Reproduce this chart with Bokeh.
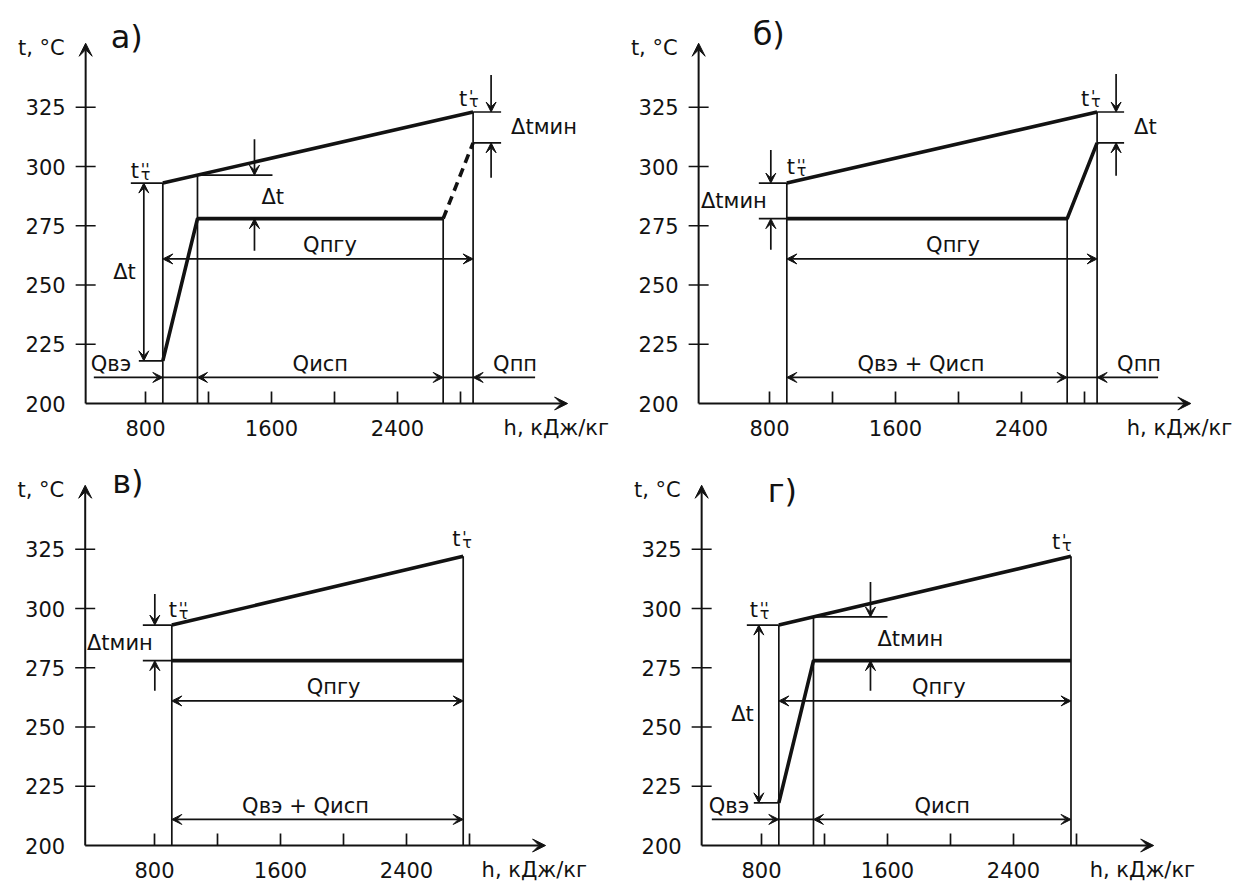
import numpy as np
from bokeh.plotting import figure
from bokeh.layouts import column, row
from bokeh.models import Range1d, Arrow, VeeHead
from bokeh.core.properties import value
from bokeh.embed import file_html
from bokeh.resources import INLINE

# ---------------- data ----------------
T_TICKS = [200, 225, 250, 275, 300, 325]
T_TICK_LABELS = ["200", "225", "250", "275", "300", "325"]
H_TICKS = [800, 1200, 1600, 2000, 2400, 2800]
H_LABEL_VALUES = [800, 1600, 2400]
H_TICK_LABELS = ["800", "1600", "2400"]

# panel а
A_GAS_H = [910, 2880]
A_GAS_T = [293, 323]
A_WATER_H = [910, 1130, 2690]
A_WATER_T = [218, 278, 278]
A_STEAM_H = [2690, 2880]
A_STEAM_T = [278, 310]
# panel б
B_GAS_H = [910, 2880]
B_GAS_T = [293, 323]
B_WATER_H = [910, 2690, 2880]
B_WATER_T = [278, 278, 310]
# panel в
V_GAS_H = [910, 2760]
V_GAS_T = [293, 322]
V_WATER_H = [910, 2760]
V_WATER_T = [278, 278]
# panel г
G_GAS_H = [910, 2765]
G_GAS_T = [293, 322]
G_WATER_H = [910, 1130, 2765]
G_WATER_T = [218, 278, 278]

# ---------------- layout / style ----------------
W, H = 617, 442
UX = 400 / 63.0      # кДж/кг per pixel
UT = 1 / 2.37        # °C per pixel
T_BOTTOM = 200 - 39 * UT
T_TOP_ARROW = 352
Q_PGU_T = 261
Q_LOW_T = 211
FONT = "DejaVu Sans"
FS = "21px"
INK = "#121212"
THIN = 1.7
THICK = 3.6


def make_fig(px800, axis_h, arrow_h, title, title_dx, title_dy):
    x0 = 800 - px800 * UX
    p = figure(width=W, height=H,
               x_range=Range1d(x0, x0 + W * UX),
               y_range=Range1d(T_BOTTOM, T_BOTTOM + H * UT),
               x_axis_type=None, y_axis_type=None,
               output_backend="svg", toolbar_location=None,
               min_border=0, outline_line_color=None)
    p.background_fill_color = "white"
    p.border_fill_color = "white"
    # axes with arrows
    arrow(p, axis_h, 200, axis_h, T_TOP_ARROW, lw=2.0, size=13)
    arrow(p, axis_h, 200, arrow_h, 200, lw=2.0, size=13)
    yt = T_TICKS[1:]
    p.segment(x0=[axis_h - 10 * UX] * len(yt), y0=yt,
              x1=[axis_h + 10 * UX] * len(yt), y1=yt,
              line_color=INK, line_width=THIN)
    p.text(x=[axis_h - 20 * UX] * len(T_TICKS), y=T_TICKS, text=T_TICK_LABELS,
           text_align="right", text_baseline="alphabetic",
           text_font=value(FONT), text_font_size=FS, text_color=INK)
    p.segment(x0=H_TICKS, y0=[200] * len(H_TICKS), x1=H_TICKS,
              y1=[200 + 12 * UT] * len(H_TICKS), line_color=INK, line_width=THIN)
    p.text(x=H_LABEL_VALUES, y=[200 - 24 * UT] * len(H_LABEL_VALUES),
           text=H_TICK_LABELS, text_align="center", text_baseline="middle",
           text_font=value(FONT), text_font_size=FS, text_color=INK)
    label(p, axis_h - 21 * UX, 200 + 356 * UT, "t, °C", align="right")
    label(p, arrow_h - 64 * UX, 200 - 24 * UT, "h, кДж/кг")
    label(p, axis_h + title_dx * UX, 200 + title_dy * UT, title, size="32px")
    return p


def seg(p, x0, y0, x1, y1, lw=THIN):
    p.segment(x0=[x0], y0=[y0], x1=[x1], y1=[y1], line_color=INK, line_width=lw)


def arrow(p, x0, y0, x1, y1, both=False, lw=THIN, size=10):
    kw = dict(end=VeeHead(size=size, line_color=INK, fill_color=INK, line_width=1),
              x_start=x0, y_start=y0, x_end=x1, y_end=y1,
              line_color=INK, line_width=lw)
    if both:
        kw["start"] = VeeHead(size=size, line_color=INK, fill_color=INK, line_width=1)
    p.add_layout(Arrow(**kw))


def label(p, x, y, s, align="left", baseline="middle", size=FS):
    p.text(x=[x], y=[y], text=[s], text_align=align, text_baseline=baseline,
           text_font=value(FONT), text_font_size=size, text_color=INK)


def t_mark(p, h, t, prime):
    label(p, h, t, "t", baseline="alphabetic")
    label(p, h + 10 * UX, t + 2 * UT, prime, baseline="alphabetic", size="16px")
    label(p, h + 10 * UX, t - 3 * UT, "τ", baseline="alphabetic", size="16px")


# ---------------- panel а ----------------
pa = make_fig(145, 420, 3480, "а)", 25, 367)
h_in, h_pinch, h_sat = A_WATER_H
h_sup = A_STEAM_H[1]
t_g_out, t_g_in = A_GAS_T
t_fw, t_boil = A_WATER_T[0], A_WATER_T[1]
t_sup = A_STEAM_T[1]
t_g_pinch = float(np.interp(h_pinch, A_GAS_H, A_GAS_T))

pa.line(A_GAS_H, A_GAS_T, line_color=INK, line_width=THICK)
pa.line(A_WATER_H, A_WATER_T, line_color=INK, line_width=THICK)
pa.line(A_STEAM_H, A_STEAM_T, line_color=INK, line_width=THICK, line_dash="9 6")
pa.segment(x0=[h_in, h_pinch, h_sat, h_sup], y0=[200] * 4,
           x1=[h_in, h_pinch, h_sat, h_sup], y1=[t_g_out, t_g_pinch, t_boil, t_g_in],
           line_color=INK, line_width=THIN)
seg(pa, h_in - 32 * UX, t_g_out, h_in, t_g_out)
seg(pa, h_in - 24 * UX, t_fw, h_in, t_fw)
arrow(pa, h_in - 19 * UX, t_fw, h_in - 19 * UX, t_g_out, both=True)
label(pa, h_in - 27 * UX, (t_fw + t_g_out) / 2, "Δt", align="right")
t_mark(pa, h_in - 32 * UX, t_g_out + 12 * UT, "''")
seg(pa, h_pinch, t_g_pinch, h_pinch + 75 * UX, t_g_pinch)
xa = h_pinch + 57 * UX
arrow(pa, xa, t_g_pinch + 36 * UT, xa, t_g_pinch)
arrow(pa, xa, t_boil - 32 * UT, xa, t_boil)
label(pa, h_pinch + 64 * UX, (t_boil + t_g_pinch) / 2, "Δt")
seg(pa, h_sup, t_g_in, h_sup + 28 * UX, t_g_in)
seg(pa, h_sup, t_sup, h_sup + 28 * UX, t_sup)
xa = h_sup + 18 * UX
arrow(pa, xa, t_g_in + 37 * UT, xa, t_g_in)
arrow(pa, xa, t_sup - 35 * UT, xa, t_sup)
label(pa, h_sup + 38 * UX, (t_g_in + t_sup) / 2, "Δtмин")
t_mark(pa, h_sup - 14 * UX, t_g_in + 13 * UT, "'")
arrow(pa, h_in, Q_PGU_T, h_sup, Q_PGU_T, both=True)
label(pa, (h_in + h_sup) / 2 + 12 * UX, Q_PGU_T + 14 * UT, "Qпгу", align="center")
arrow(pa, h_in - 69 * UX, Q_LOW_T, h_in, Q_LOW_T)
seg(pa, h_in, Q_LOW_T, h_pinch, Q_LOW_T)
arrow(pa, h_pinch, Q_LOW_T, h_sat, Q_LOW_T, both=True)
seg(pa, h_sat, Q_LOW_T, h_sup, Q_LOW_T)
arrow(pa, h_sup + 62 * UX, Q_LOW_T, h_sup, Q_LOW_T)
label(pa, h_in - 72 * UX, Q_LOW_T + 13 * UT, "Qвэ")
label(pa, (h_pinch + h_sat) / 2, Q_LOW_T + 13 * UT, "Qисп", align="center")
label(pa, h_sup + 20 * UX, Q_LOW_T + 13 * UT, "Qпп")

# ---------------- panel б ----------------
pb = make_fig(152, 350, 3475, "б)", 54, 370)
h_in, h_sat, h_sup = B_WATER_H
t_boil, t_sup = B_WATER_T[0], B_WATER_T[2]
t_g_out, t_g_in = B_GAS_T
pb.line(B_GAS_H, B_GAS_T, line_color=INK, line_width=THICK)
pb.line(B_WATER_H, B_WATER_T, line_color=INK, line_width=THICK)
pb.segment(x0=[h_in, h_sat, h_sup], y0=[200] * 3, x1=[h_in, h_sat, h_sup],
           y1=[t_g_out, t_boil, t_g_in], line_color=INK, line_width=THIN)
seg(pb, h_in - 28 * UX, t_g_out, h_in, t_g_out)
seg(pb, h_in - 28 * UX, t_boil, h_in, t_boil)
xa = h_in - 16 * UX
arrow(pb, xa, t_g_out + 33 * UT, xa, t_g_out)
arrow(pb, xa, t_boil - 31 * UT, xa, t_boil)
label(pb, h_in - 20 * UX, (t_boil + t_g_out) / 2, "Δtмин", align="right")
t_mark(pb, h_in, t_g_out + 16 * UT, "''")
seg(pb, h_sup, t_g_in, h_sup + 27 * UX, t_g_in)
seg(pb, h_sup, t_sup, h_sup + 27 * UX, t_sup)
xa = h_sup + 19 * UX
arrow(pb, xa, t_g_in + 38 * UT, xa, t_g_in)
arrow(pb, xa, t_sup - 33 * UT, xa, t_sup)
label(pb, h_sup + 37 * UX, (t_g_in + t_sup) / 2, "Δt")
t_mark(pb, h_sup - 16 * UX, t_g_in + 13 * UT, "'")
arrow(pb, h_in, Q_PGU_T, h_sup, Q_PGU_T, both=True)
label(pb, (h_in + h_sup) / 2 + 11 * UX, Q_PGU_T + 14 * UT, "Qпгу", align="center")
arrow(pb, h_in, Q_LOW_T, h_sat, Q_LOW_T, both=True)
seg(pb, h_sat, Q_LOW_T, h_sup, Q_LOW_T)
arrow(pb, h_sup + 61 * UX, Q_LOW_T, h_sup, Q_LOW_T)
label(pb, (h_in + h_sat) / 2 - 6 * UX, Q_LOW_T + 13 * UT, "Qвэ + Qисп", align="center")
label(pb, h_sup + 20 * UX, Q_LOW_T + 13 * UT, "Qпп")

# ---------------- panel в ----------------
pv = make_fig(154, 360, 3283, "в)", 27, 364)
h_in, h_end = V_WATER_H
t_boil = V_WATER_T[0]
t_g_out, t_g_in = V_GAS_T
pv.line(V_GAS_H, V_GAS_T, line_color=INK, line_width=THICK)
pv.line(V_WATER_H, V_WATER_T, line_color=INK, line_width=THICK)
pv.segment(x0=[h_in, h_end], y0=[200] * 2, x1=[h_in, h_end], y1=[t_g_out, t_g_in],
           line_color=INK, line_width=THIN)
seg(pv, h_in - 29 * UX, t_g_out, h_in, t_g_out)
seg(pv, h_in - 29 * UX, t_boil, h_in, t_boil)
xa = h_in - 17 * UX
arrow(pv, xa, t_g_out + 31 * UT, xa, t_g_out)
arrow(pv, xa, t_boil - 30 * UT, xa, t_boil)
label(pv, h_in - 19 * UX, (t_boil + t_g_out) / 2, "Δtмин", align="right")
t_mark(pv, h_in - 3 * UX, t_g_out + 15 * UT, "''")
t_mark(pv, h_end - 11 * UX, t_g_in + 17 * UT, "'")
arrow(pv, h_in, Q_PGU_T, h_end, Q_PGU_T, both=True)
label(pv, (h_in + h_end) / 2 + 16 * UX, Q_PGU_T + 14 * UT, "Qпгу", align="center")
arrow(pv, h_in, Q_LOW_T, h_end, Q_LOW_T, both=True)
label(pv, (h_in + h_end) / 2 - 12 * UX, Q_LOW_T + 13 * UT, "Qвэ + Qисп", align="center")

# ---------------- panel г ----------------
pg = make_fig(144, 420, 3290, "г)", 66, 355)
h_in, h_pinch, h_end = G_WATER_H
t_fw, t_boil = G_WATER_T[0], G_WATER_T[1]
t_g_out, t_g_in = G_GAS_T
t_g_pinch = float(np.interp(h_pinch, G_GAS_H, G_GAS_T))
pg.line(G_GAS_H, G_GAS_T, line_color=INK, line_width=THICK)
pg.line(G_WATER_H, G_WATER_T, line_color=INK, line_width=THICK)
pg.segment(x0=[h_in, h_pinch, h_end], y0=[200] * 3, x1=[h_in, h_pinch, h_end],
           y1=[t_g_out, t_g_pinch, t_g_in], line_color=INK, line_width=THIN)
seg(pg, h_in - 32 * UX, t_g_out, h_in, t_g_out)
seg(pg, h_in - 25 * UX, t_fw, h_in, t_fw)
arrow(pg, h_in - 20 * UX, t_fw, h_in - 20 * UX, t_g_out, both=True)
label(pg, h_in - 25 * UX, (t_fw + t_g_out) / 2, "Δt", align="right")
t_mark(pg, h_in - 29 * UX, t_g_out + 15 * UT, "''")
seg(pg, h_pinch, t_g_pinch, h_pinch + 74 * UX, t_g_pinch)
xa = h_pinch + 57 * UX
arrow(pg, xa, t_g_pinch + 35 * UT, xa, t_g_pinch)
arrow(pg, xa, t_boil - 30 * UT, xa, t_boil)
label(pg, h_pinch + 64 * UX, (t_boil + t_g_pinch) / 2, "Δtмин")
t_mark(pg, h_end - 19 * UX, t_g_in + 14 * UT, "'")
arrow(pg, h_in, Q_PGU_T, h_end, Q_PGU_T, both=True)
label(pg, (h_in + h_end) / 2 + 14 * UX, Q_PGU_T + 14 * UT, "Qпгу", align="center")
arrow(pg, h_in - 67 * UX, Q_LOW_T, h_in, Q_LOW_T)
seg(pg, h_in, Q_LOW_T, h_pinch, Q_LOW_T)
arrow(pg, h_pinch, Q_LOW_T, h_end, Q_LOW_T, both=True)
label(pg, h_in - 70 * UX, Q_LOW_T + 13 * UT, "Qвэ")
label(pg, (h_pinch + h_end) / 2, Q_LOW_T + 13 * UT, "Qисп", align="center")

layout = column(row(pa, pb), row(pv, pg))
open("out.html", "w").write(file_html(layout, INLINE))
